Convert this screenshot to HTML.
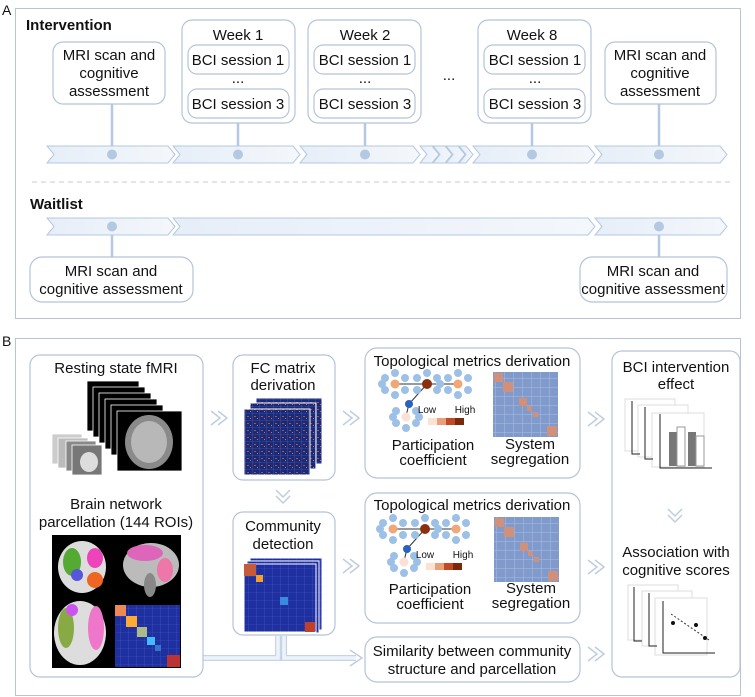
<!DOCTYPE html>
<html><head><meta charset="utf-8"><style>
body{margin:0;background:#fff}
svg{display:block;font-family:"Liberation Sans",Arial,sans-serif}
</style></head><body>
<svg width="755" height="697" viewBox="0 0 755 697" xmlns="http://www.w3.org/2000/svg">
<defs>
<linearGradient id="ch" x1="0" y1="0" x2="1" y2="0"><stop offset="0" stop-color="#e6eef8"/><stop offset="1" stop-color="#f4f7fb"/></linearGradient>
<pattern id="grid" width="9" height="9" patternUnits="userSpaceOnUse"><rect width="9" height="9" fill="#7f9acb"/><path d="M0 0H9M0 0V9" stroke="#a9bde0" stroke-width="1"/></pattern>
<pattern id="fc" width="7" height="7" patternUnits="userSpaceOnUse"><rect width="7" height="7" fill="#1a2a7a"/><rect x="2" y="3" width="2" height="1" fill="#c0502a"/><rect x="5" y="5" width="1" height="1" fill="#e07040"/><path d="M0 0H7M0 0V7" stroke="#5a6aa8" stroke-width="0.6"/></pattern>
<pattern id="cd" width="8" height="8" patternUnits="userSpaceOnUse"><rect width="8" height="8" fill="#1e2fa0"/><path d="M0 0H8M0 0V8" stroke="#4a5cc0" stroke-width="0.6"/></pattern>
</defs>
<g font-size="15" fill="#111">
<!-- Panel A -->
<text x="2" y="15" font-size="14">A</text>
<rect x="15.5" y="8.5" width="725" height="310" fill="#fff" stroke="#b8c4d4"/>
<text x="26" y="30" font-weight="bold" font-size="15">Intervention</text>
<g stroke="#b4c8e2" stroke-width="2.5" fill="none">
<line x1="112" y1="104" x2="112" y2="154"/><line x1="238" y1="123" x2="238" y2="154"/><line x1="365" y1="123" x2="365" y2="154"/><line x1="532" y1="123" x2="532" y2="154"/><line x1="659" y1="104" x2="659" y2="154"/>
<line x1="112" y1="227" x2="112" y2="257"/><line x1="659" y1="227" x2="659" y2="257"/>
</g>
<g fill="url(#ch)" stroke="#b4c8e2" stroke-width="1">
<path d="M47 146H168L175 154.5L168 163H47L54 154.5Z"/>
<path d="M173 146H293L300 154.5L293 163H173L180 154.5Z"/>
<path d="M300 146H413L420 154.5L413 163H300L307 154.5Z"/>
<path d="M420 146H432L439 154.5L432 163H420L427 154.5Z"/>
<path d="M433 146H445L452 154.5L445 163H433L440 154.5Z"/>
<path d="M446 146H458L465 154.5L458 163H446L453 154.5Z"/>
<path d="M459 146H466L473 154.5L466 163H459L466 154.5Z"/>
<path d="M473 146H588L595 154.5L588 163H473L480 154.5Z"/>
<path d="M595 146H720L727 154.5L720 163H595L602 154.5Z"/>
<path d="M47 218H168L175 226.5L168 235H47L54 226.5Z"/>
<path d="M173 218H588L595 226.5L588 235H173L180 226.5Z"/>
<path d="M595 218H720L727 226.5L720 235H595L602 226.5Z"/>
</g>
<g fill="#b4c8e2"><circle cx="112" cy="154.5" r="5"/><circle cx="238" cy="154.5" r="5"/><circle cx="365" cy="154.5" r="5"/><circle cx="532" cy="154.5" r="5"/><circle cx="659" cy="154.5" r="5"/><circle cx="112" cy="226.5" r="5"/><circle cx="659" cy="226.5" r="5"/></g>
<g fill="#fff" stroke="#b4c4d8" stroke-width="1.2">
<rect x="53" y="42" width="112" height="62" rx="10"/>
<rect x="182" y="20" width="113" height="103" rx="10"/>
<rect x="308" y="20" width="113" height="103" rx="10"/>
<rect x="478" y="20" width="113" height="103" rx="10"/>
<rect x="605" y="42" width="111" height="62" rx="10"/>
<rect x="188" y="45" width="101" height="29" rx="9"/><rect x="188" y="89" width="101" height="29" rx="9"/>
<rect x="314" y="45" width="101" height="29" rx="9"/><rect x="314" y="89" width="101" height="29" rx="9"/>
<rect x="484" y="45" width="101" height="29" rx="9"/><rect x="484" y="89" width="101" height="29" rx="9"/>
<rect x="30" y="257" width="163" height="45" rx="12"/>
<rect x="580" y="257" width="147" height="45" rx="12"/>
</g>
<g text-anchor="middle">
<text x="109" y="60">MRI scan and</text><text x="109" y="78">cognitive</text><text x="109" y="96">assessment</text>
<text x="660" y="60">MRI scan and</text><text x="660" y="78">cognitive</text><text x="660" y="96">assessment</text>
<text x="238" y="40">Week 1</text><text x="365" y="40">Week 2</text><text x="532" y="40">Week 8</text>
<text x="238" y="65">BCI session 1</text><text x="238" y="109">BCI session 3</text><text x="238" y="83">...</text>
<text x="365" y="65">BCI session 1</text><text x="365" y="109">BCI session 3</text><text x="365" y="83">...</text>
<text x="535" y="65">BCI session 1</text><text x="535" y="109">BCI session 3</text><text x="535" y="83">...</text>
<text x="449" y="80">...</text>
<text x="111" y="276">MRI scan and</text><text x="111" y="294">cognitive assessment</text>
<text x="653" y="276">MRI scan and</text><text x="653" y="294">cognitive assessment</text>
</g>
<line x1="32" y1="182" x2="730" y2="182" stroke="#c4ccd6" stroke-dasharray="5,4"/>
<text x="30" y="209" font-weight="bold" font-size="15">Waitlist</text>

<!-- Panel B -->
<text x="2" y="346" font-size="14">B</text>
<rect x="15.5" y="338.5" width="725" height="357" fill="#fff" stroke="#b8c4d4"/>
<path d="M181 658H278V636M284 636V658H356" fill="none" stroke="#c6d4e8" stroke-width="6"/>
<path d="M181 658H278V636M284 636V658H356" fill="none" stroke="#eef3fa" stroke-width="3.5"/>
<path d="M350 650L362 658L350 666" fill="none" stroke="#c0cde0" stroke-width="1.5"/>
<g fill="#fff" stroke="#b4c4d8" stroke-width="1.2">
<rect x="30" y="355" width="173" height="322" rx="10"/>
<rect x="233" y="355" width="102" height="125" rx="10"/>
<rect x="233" y="512" width="102" height="123" rx="10"/>
<rect x="365" y="348" width="215" height="130" rx="12"/>
<rect x="365" y="493" width="215" height="130" rx="12"/>
<rect x="365" y="637" width="215" height="45" rx="12"/>
<rect x="612" y="351" width="128" height="326" rx="10"/>
</g>
<g fill="none" stroke="#c0cde0" stroke-width="1.5">
<path d="M211 411L220 418L211 425M218 411L227 418L218 425"/>
<path d="M343 411L352 418L343 425M350 411L359 418L350 425"/>
<path d="M343 559L352 566L343 573M350 559L359 566L350 573"/>
<path d="M588 412L597 419L588 426M595 412L604 419L595 426"/>
<path d="M588 560L597 567L588 574M595 560L604 567L595 574"/>
<path d="M588 647L597 654L588 661M595 647L604 654L595 661"/>
<path d="M276 490L283 497L290 490M276 496L283 503L290 496"/>
<path d="M668 509L675 516L682 509M668 515L675 522L682 515"/>
</g>
<g text-anchor="middle">
<text x="116" y="373">Resting state fMRI</text>
<text x="116" y="509">Brain network</text><text x="116" y="527">parcellation (144 ROIs)</text>
<text x="283" y="373">FC matrix</text><text x="283" y="390">derivation</text>
<text x="283" y="531">Community</text><text x="283" y="549">detection</text>
<text x="472" y="366">Topological metrics derivation</text>
<text x="472" y="510">Topological metrics derivation</text>
<text x="433" y="450">Participation</text><text x="433" y="465">coefficient</text>
<text x="530" y="449">System</text><text x="530" y="464">segregation</text>
<text x="430" y="594">Participation</text><text x="430" y="609">coefficient</text>
<text x="531" y="593">System</text><text x="531" y="608">segregation</text>
<text x="472" y="656">Similarity between community</text><text x="472" y="674">structure and parcellation</text>
<text x="676" y="372">BCI intervention</text><text x="676" y="389">effect</text>
<text x="676" y="557">Association with</text><text x="676" y="575">cognitive scores</text>
</g>
<g stroke="#fff" stroke-width="0.8">
<rect x="87" y="381" width="52" height="50" fill="#000"/><rect x="93" y="387" width="52" height="50" fill="#000"/><rect x="99" y="393" width="52" height="50" fill="#000"/><rect x="105" y="399" width="52" height="50" fill="#000"/><rect x="111" y="405" width="52" height="50" fill="#000"/><rect x="117" y="411" width="65" height="60" fill="#000"/>
<rect x="52" y="434" width="30" height="30" fill="#ccc"/><rect x="58" y="438" width="30" height="30" fill="#bbb"/><rect x="66" y="441" width="30" height="30" fill="#888"/><rect x="72" y="445" width="30" height="30" fill="#777"/>
</g>
<ellipse cx="149" cy="442" rx="24" ry="27" fill="#8a8a8a"/><ellipse cx="149" cy="442" rx="18" ry="21" fill="#b8b8b8"/>
<ellipse cx="89" cy="462" rx="9" ry="10" fill="#ddd"/>
<rect x="52" y="535" width="129" height="133" fill="#000"/>
<ellipse cx="82" cy="567" rx="24" ry="26" fill="#ddd"/><ellipse cx="72" cy="562" rx="9" ry="14" fill="#5a3"/><ellipse cx="95" cy="558" rx="8" ry="10" fill="#e4b"/><ellipse cx="95" cy="580" rx="8" ry="8" fill="#e62"/><ellipse cx="77" cy="575" rx="6" ry="6" fill="#55d"/>
<ellipse cx="151" cy="565" rx="28" ry="22" fill="#bbb"/><ellipse cx="145" cy="553" rx="18" ry="8" fill="#d6b"/><ellipse cx="165" cy="570" rx="8" ry="12" fill="#e7a"/><ellipse cx="150" cy="585" rx="6" ry="12" fill="#888"/>
<ellipse cx="80" cy="633" rx="26" ry="32" fill="#ddd"/><ellipse cx="66" cy="628" rx="8" ry="20" fill="#8a4"/><ellipse cx="96" cy="628" rx="8" ry="22" fill="#e7c"/><ellipse cx="72" cy="610" rx="6" ry="6" fill="#c5e"/>
<rect x="115" y="605" width="65" height="62" fill="url(#cd)"/>
<rect x="115" y="605" width="11" height="11" fill="#e85"/><rect x="126" y="616" width="11" height="11" fill="#fa3"/><rect x="137" y="627" width="10" height="10" fill="#ab8"/><rect x="147" y="637" width="8" height="8" fill="#4bf"/><rect x="155" y="645" width="6" height="6" fill="#37c"/><rect x="167" y="655" width="13" height="12" fill="#b33"/>
<rect x="256" y="398" width="66" height="66" fill="url(#fc)" stroke="#fff"/>
<rect x="250" y="403" width="66" height="66" fill="url(#fc)" stroke="#fff"/>
<rect x="244" y="409" width="66" height="66" fill="url(#fc)" stroke="#fff"/>
<rect x="250" y="558" width="72" height="72" fill="url(#cd)" stroke="#fff"/>
<rect x="247" y="561" width="72" height="72" fill="url(#cd)" stroke="#fff"/>
<rect x="244" y="564" width="72" height="68" fill="url(#cd)" stroke="#fff"/>
<rect x="244" y="564" width="12" height="12" fill="#c75a3a"/><rect x="256" y="575" width="7" height="7" fill="#f3a030"/><rect x="280" y="597" width="8" height="8" fill="#3a8ae0"/><rect x="305" y="622" width="10" height="10" fill="#c0402a"/>
<g id="net1">
<g stroke="#333" stroke-width="1"><line x1="395" y1="384" x2="427" y2="384"/><line x1="427" y1="384" x2="458" y2="384"/><line x1="427" y1="384" x2="409" y2="404"/><line x1="409" y1="404" x2="406" y2="416"/></g>
<g fill="#9cc0e6">
<circle cx="385" cy="378" r="4"/><circle cx="395" cy="373" r="4"/><circle cx="405" cy="378" r="4"/><circle cx="385" cy="390" r="4"/><circle cx="395" cy="395" r="4"/><circle cx="405" cy="390" r="4"/><circle cx="382" cy="384" r="4"/>
<circle cx="417" cy="378" r="4"/><circle cx="427" cy="373" r="4"/><circle cx="437" cy="378" r="4"/><circle cx="417" cy="390" r="4"/><circle cx="437" cy="390" r="4"/><circle cx="440" cy="384" r="4"/>
<circle cx="448" cy="378" r="4"/><circle cx="458" cy="373" r="4"/><circle cx="468" cy="378" r="4"/><circle cx="448" cy="390" r="4"/><circle cx="458" cy="395" r="4"/><circle cx="468" cy="390" r="4"/>
<circle cx="396" cy="411" r="4"/><circle cx="396" cy="423" r="4"/><circle cx="406" cy="428" r="4"/><circle cx="416" cy="423" r="4"/><circle cx="416" cy="411" r="4"/><circle cx="393" cy="417" r="4"/><circle cx="419" cy="417" r="4"/>
</g>
<circle cx="395" cy="384" r="4.5" fill="#f0a878"/><circle cx="427" cy="384" r="5" fill="#8a3010"/><circle cx="458" cy="384" r="4.5" fill="#f0a878"/><circle cx="409" cy="404" r="4" fill="#2a60c0"/><circle cx="406" cy="417" r="4.5" fill="#fbe0d6"/>
<text x="427" y="413" font-size="10" text-anchor="middle">Low</text><text x="465" y="413" font-size="10" text-anchor="middle">High</text>
<rect x="428" y="418" width="9" height="7" fill="#fbe2d2"/><rect x="437" y="418" width="9" height="7" fill="#e8a07a"/><rect x="446" y="418" width="9" height="7" fill="#c04a24"/><rect x="455" y="418" width="9" height="7" fill="#7a2a0a"/>
</g>
<use href="#net1" transform="translate(-2,145)"/>
<g id="seg1">
<rect x="493" y="372" width="65" height="65" fill="url(#grid)"/>
<rect x="494" y="373" width="9" height="9" fill="#d0907a"/><rect x="503" y="382" width="10" height="10" fill="#d0907a"/><rect x="519" y="398" width="8" height="8" fill="#d0907a"/><rect x="527" y="406" width="5" height="5" fill="#d0907a"/><rect x="533" y="412" width="5" height="5" fill="#d0907a"/><rect x="547" y="426" width="10" height="10" fill="#d0907a"/>
</g>
<use href="#seg1" transform="translate(1,145)"/>
<g fill="#fff" stroke="#ddd"><rect x="625" y="399" width="50" height="52"/><rect x="638" y="405" width="50" height="52"/><rect x="652" y="413" width="52" height="54"/></g>
<g stroke="#222" stroke-width="1" fill="none"><path d="M632 401V454H640M645 407V459H653M660 414V468H712"/></g>
<rect x="669" y="432" width="8" height="34" fill="#777"/><rect x="677" y="427" width="8" height="39" fill="#fff" stroke="#999"/><rect x="688" y="432" width="8" height="34" fill="#777"/><rect x="696" y="436" width="8" height="30" fill="#fff" stroke="#999"/>
<g fill="#fff" stroke="#ddd"><rect x="628" y="585" width="50" height="55"/><rect x="642" y="591" width="50" height="55"/><rect x="655" y="598" width="52" height="57"/></g>
<g stroke="#222" stroke-width="1" fill="none"><path d="M634 587V641H642M649 593V646H657M663 601V653H715"/></g>
<line x1="671" y1="614" x2="709" y2="640" stroke="#333" stroke-dasharray="2,2"/>
<g fill="#111"><circle cx="673" cy="623" r="2"/><circle cx="696" cy="625" r="2"/><circle cx="705" cy="638" r="2"/></g>
</g>
</svg>
</body></html>
